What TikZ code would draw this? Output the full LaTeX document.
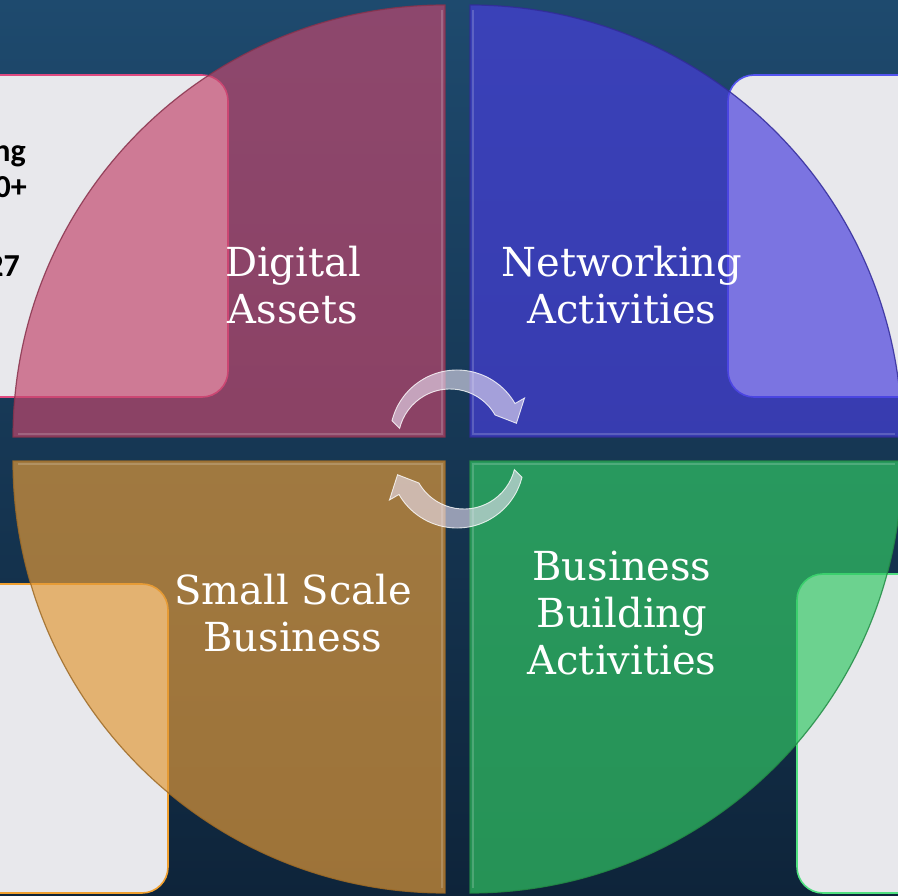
\documentclass[tikz,border=0pt]{standalone}
\usepackage{fontspec}
\setmainfont{DejaVu Serif}
\newfontfamily\boxfont{Carlito}
\definecolor{bgtop}{RGB}{30,74,110}
\definecolor{bgbot}{RGB}{14,36,58}
\definecolor{cardfill}{RGB}{232,232,236}
\definecolor{pinkq}{RGB}{195,71,109}
\definecolor{blueq}{RGB}{72,62,220}
\definecolor{orangeq}{RGB}{226,153,56}
\definecolor{greenq}{RGB}{50,200,100}
\definecolor{pinkb}{RGB}{224,74,128}
\definecolor{blueb}{RGB}{84,84,240}
\definecolor{orangeb}{RGB}{240,160,48}
\definecolor{greenb}{RGB}{80,224,128}
\definecolor{arrowfill}{RGB}{236,228,246}
\begin{document}
\begin{tikzpicture}[x=1pt,y=-1pt,
  lbl/.style={text=white, font=\fontsize{40}{47}\selectfont, align=center, inner sep=0pt},
  card/.style={fill=cardfill, rounded corners=26pt, line width=1.6pt, inner sep=0pt},
  quad/.style={fill opacity=0.68, draw opacity=0.85, line width=1.2pt},
  bevel/.style={draw=white, draw opacity=0.18, line width=2pt},
  arw/.style={fill=arrowfill, fill opacity=0.6, draw=white, draw opacity=0.8, line width=0.9pt},
  boxtxt/.style={font=\boxfont\bfseries\fontsize{32}{38}\selectfont, text=black, anchor=base east, inner sep=0pt}]
\useasboundingbox (0,0) rectangle (898,896);
\begin{scope}
\clip (0,0) rectangle (898,896);
\shade[top color=bgtop, bottom color=bgbot] (0,0) rectangle (898,896);
% cards
\node[card, draw=pinkb, minimum width=258pt, minimum height=322pt] (pbox) at (99,236) {};
\node[card, draw=blueb, minimum width=210pt, minimum height=322pt] (bbox) at (833,236) {};
\node[card, draw=orangeb, minimum width=238pt, minimum height=309pt] (obox) at (49,738.5) {};
\node[card, draw=greenb, minimum width=200pt, minimum height=319pt] (gbox) at (897,733.5) {};
\node[boxtxt] (t1) at (26,162) {ng};
\node[boxtxt] (t2) at (27,198) {0+};
\node[boxtxt] (t3) at (20,277) {27};
% quadrants
\path[quad, fill=pinkq, draw=pinkq!70!black] (445,437) -- ++(-432,0) arc[start angle=180, end angle=270, radius=432] -- cycle;
\path[quad, fill=blueq, draw=blueq!70!black] (470,437) -- ++(0,-432) arc[start angle=270, end angle=360, radius=432] -- cycle;
\path[quad, fill=orangeq, draw=orangeq!70!black] (445,461) -- ++(0,432) arc[start angle=90, end angle=180, radius=432] -- cycle;
\path[quad, fill=greenq, draw=greenq!70!black] (470,461) -- ++(432,0) arc[start angle=0, end angle=90, radius=432] -- cycle;
\draw[bevel] (442,10) -- (442,434) -- (18,434);
\draw[bevel] (473,10) -- (473,434) -- (895,434);
\draw[bevel] (442,888) -- (442,464) -- (18,464);
\draw[bevel] (473,888) -- (473,464) -- (895,464);
% labels
\node[lbl] (da) at (293,285) {Digital\\Assets};
\node[lbl] (na) at (622,285) {Networking\\Activities};
\node[lbl] (ss) at (293,613) {Small Scale\\Business};
\node[lbl] (bb) at (622,613) {Business\\Building\\Activities};
% circular arrows
\begin{scope}[shift={(457,437)}]
\path[arw] (194:67) arc[start angle=194, end angle=330, radius=67] -- (330:78) -- (347:61) -- (330:44) arc[start angle=330, end angle=194, radius=52] -- cycle;
\end{scope}
\begin{scope}[shift={(457,461)}]
\path[arw] (14:67) arc[start angle=14, end angle=150, radius=67] -- (150:78) -- (167:61) -- (150:44) arc[start angle=150, end angle=14, radius=52] -- cycle;
\end{scope}
\end{scope}
\end{tikzpicture}
\end{document}
